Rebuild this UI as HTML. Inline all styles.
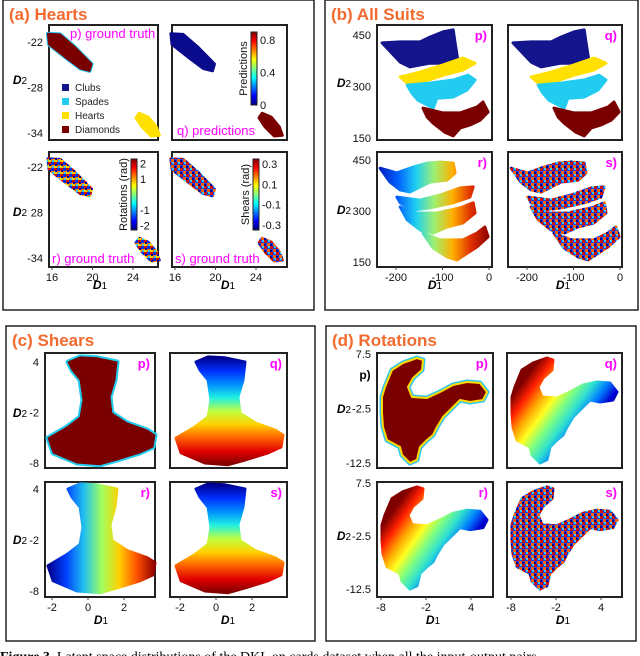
<!DOCTYPE html>
<html><head><meta charset="utf-8"><style>
html,body{margin:0;padding:0;background:#fff;width:640px;height:656px;overflow:hidden}
svg{display:block;font-family:"Liberation Sans",sans-serif}
</style></head><body>
<svg id="fig" width="640" height="656" viewBox="0 0 640 656">
<defs>
<pattern id="mix" patternUnits="userSpaceOnUse" width="6" height="6">
<rect width="6" height="6" fill="#ff7000"/>
<rect x="0" y="0" width="3" height="3" fill="#d01000"/>
<rect x="3" y="0" width="3" height="3" fill="#0030e0"/>
<rect x="0" y="3" width="3" height="3" fill="#f0d000"/>
<rect x="4" y="4" width="2" height="2" fill="#30c8f0"/>
<rect x="1" y="2" width="2" height="2" fill="#000090"/>
</pattern>
<pattern id="mix2" patternUnits="userSpaceOnUse" width="6" height="6">
<rect width="6" height="6" fill="#1040f0"/>
<rect x="0" y="0" width="3" height="3" fill="#d01000"/>
<rect x="3" y="3" width="3" height="3" fill="#ff6000"/>
<rect x="4" y="0" width="2" height="2" fill="#30d0f0"/>
<rect x="0" y="4" width="2" height="2" fill="#000090"/>
</pattern>
</defs>
</svg>
<script>
// ---------- data (data coordinates) ----------
const aBand=[[15.6,-20.9],[16.8,-21.0],[18.2,-22.6],[19.9,-24.9],[19.7,-25.8],[18.8,-25.5],[17.5,-24.2],[15.7,-22.3]];
const aHeart=[[24.6,-31.4],[25.5,-31.9],[26.3,-33.2],[26.6,-34.3],[25.8,-34.4],[24.9,-33.2],[24.3,-32.0]];
const aLegendLabels=['Clubs','Spades','Hearts','Diamonds'];
const aXTicks=[16,20,24];
const aYTicks=[-22,-28,-34];
const aYTickLabelsTop=['-22','-28','-34'];
const aYTickLabelsBot=['-22','28','-34'];
const predTicks=[0.8,0.4,0];
const rotTicks=[2,1,-1,-2];
const shearTicks=[0.3,0.1,-0.1,-0.3];

const bNavy=[[-230,427],[-191,430],[-148,430],[-127,444],[-99,459],[-77,465],[-73,427],[-67,377],[-90,368],[-127,368],[-170,357],[-191,371]];
const bYellow=[[-191,328],[-148,342],[-99,363],[-56,383],[-30,368],[-56,348],[-99,333],[-142,313],[-176,310]];
const bCyan=[[-176,304],[-127,310],[-77,319],[-45,333],[-30,319],[-47,290],[-77,269],[-112,266],[-120,237],[-153,260],[-166,281]];
const bMaroon=[[-142,237],[-99,223],[-62,223],[-26,240],[-13,255],[-2,226],[-19,202],[-41,188],[-62,179],[-77,156],[-95,167],[-120,193],[-133,211]];
const bR1=[[-234,426],[-198,412],[-163,429],[-133,441],[-105,444],[-77,441],[-73,412],[-90,391],[-127,385],[-148,371],[-170,356],[-191,362],[-213,385]];
const bR2=[[-198,341],[-148,332],[-105,347],[-62,368],[-34,371],[-41,341],[-77,324],[-127,309],[-163,303],[-191,324]];
const bR3=[[-191,312],[-155,294],[-112,294],[-62,309],[-34,324],[-30,294],[-56,265],[-90,253],[-120,235],[-148,244],[-176,274]];
const bR4=[[-142,235],[-105,215],[-56,215],[-26,235],[-9,253],[-2,224],[-26,194],[-47,176],[-69,156],[-90,165],[-120,191]];
const bXTicks=[-200,-100,0];
const bYTicks=[450,300,150];

const cShape=[[-1.11,4],[-0.44,4.6],[0.5,4.5],[1.61,4],[1.5,1.86],[1.22,-0.16],[1.33,-2.06],[2.17,-3.24],[3.28,-4.08],[3.72,-4.67],[3.61,-6.1],[2.89,-6.8],[1.61,-7.64],[0.67,-8.2],[-0.61,-8],[-1.94,-6.8],[-2.22,-5.03],[-1.17,-3.72],[-0.44,-2.53],[-0.28,-0.51],[-0.44,1.86],[-0.89,3.05]];
const cXTicks=[-2,0,2];
const cYTicks=[4,-2,-8];

const dShape=[[-6.53,4.56],[-5.07,5.85],[-3.2,6.77],[-2.4,6.4],[-2.53,4.56],[-3.73,3.1],[-4.4,1.44],[-3.87,-0.39],[-1.87,-0.57],[-0.13,0.53],[1.6,1.81],[3.47,2.36],[5.2,2.18],[6.13,0.53],[5.6,-0.94],[3.87,-1.31],[2.53,-0.94],[1.6,-2.22],[0.27,-4.06],[-0.53,-5.89],[-1.07,-7.36],[-1.87,-8.28],[-2.8,-9.56],[-3.2,-11.9],[-4.13,-12.5],[-5.2,-11.03],[-5.47,-9.56],[-7.2,-8.28],[-7.73,-5.89],[-7.87,-3.33],[-7.87,-0.39],[-7.47,1.44]];
const dXTicks=[-8,-2,4];
const dYTicks=[7.5,-2.5,-12.5];

// ---------- helpers ----------
const NS='http://www.w3.org/2000/svg';
const svg=document.getElementById('fig');
const defs=svg.querySelector('defs');
function el(tag,parent){const e=document.createElementNS(NS,tag);parent.appendChild(e);return e;}
function lin(d0,d1,p0,p1){return v=>p0+(v-d0)*(p1-p0)/(d1-d0);}
const JET=['#00007f','#0000ff','#0080ff','#00ffff','#80ff80','#ffff00','#ff8000','#ff0000','#7f0000'];
let gid=0;
function grad(x1,y1,x2,y2,colors){
  const g=el('linearGradient',defs);
  const id='g'+(gid++);
  g.setAttribute('id',id);g.setAttribute('gradientUnits','userSpaceOnUse');
  g.setAttribute('x1',x1);g.setAttribute('y1',y1);g.setAttribute('x2',x2);g.setAttribute('y2',y2);
  colors.forEach((c,i)=>{const s=el('stop',g);s.setAttribute('offset',i/(colors.length-1));s.setAttribute('stop-color',c);});
  return 'url(#'+id+')';
}
function text(parent,x,y,str,size,opts){
  const t=el('text',parent);t.setAttribute('x',x);t.setAttribute('y',y);t.setAttribute('font-size',size);
  t.textContent=str;
  if(opts){for(const k in opts)t.setAttribute(k,opts[k]);}
  return t;
}
function makePlot(name,box,xd,xp,yd,yp){
  const g=el('g',svg);
  
  
  const r=el('rect',g);
  r.setAttribute('x',box[0]);r.setAttribute('y',box[1]);r.setAttribute('width',box[2]-box[0]);r.setAttribute('height',box[3]-box[1]);
  r.setAttribute('fill','#fff');r.setAttribute('stroke','#222');r.setAttribute('stroke-width','2');
  
  
  return {g,box,sx:lin(xd[0],xd[1],xp[0],xp[1]),sy:lin(yd[0],yd[1],yp[0],yp[1])};
}
function blob(p,pts,fill,name,stroke,sw){
  const pg=el('polygon',p.g);
  pg.setAttribute('points',pts.map(q=>p.sx(q[0]).toFixed(1)+','+p.sy(q[1]).toFixed(1)).join(' '));
  pg.setAttribute('fill',fill);
  pg.setAttribute('stroke',stroke||fill);pg.setAttribute('stroke-width',sw||3);pg.setAttribute('stroke-linejoin','round');
  
  
  return pg;
}
function xTicks(p,ticks,labels){
  ticks.forEach((v,i)=>{
    const t=text(p.g,p.sx(v),p.box[3]+14,labels?labels[i]:String(v),11,{'text-anchor':'middle','fill':'#111'});
    
    
    const l=el('line',p.g);l.setAttribute('x1',p.sx(v));l.setAttribute('x2',p.sx(v));l.setAttribute('y1',p.box[3]);l.setAttribute('y2',p.box[3]+3);l.setAttribute('stroke','#444');
    
    
  });
}
function yTicks(p,ticks,labels){
  ticks.forEach((v,i)=>{
    const t=text(p.g,p.box[0]-6,p.sy(v)+4,labels?labels[i]:String(v),11,{'text-anchor':'end','fill':'#111'});
    
    
  });
}
function tag(p,str,name){
  const t=text(p.g,p.box[2]-5,p.box[1]+15,str,13,{'text-anchor':'end','fill':'#ff00ff','font-weight':'bold'});
  
  
}
function axisTitle(x,y,main,sub,name){
  const t=el('text',svg);t.setAttribute('x',x);t.setAttribute('y',y);t.setAttribute('font-size',12);t.setAttribute('text-anchor','middle');
  const a=el('tspan',t);a.setAttribute('font-weight','bold');a.setAttribute('font-style','italic');a.textContent=main;
  const b=el('tspan',t);b.setAttribute('font-size',10);b.textContent=sub;
  
  
}
function panel(x,y,w,h,title,name){
  const r=el('rect',svg);r.setAttribute('x',x);r.setAttribute('y',y);r.setAttribute('width',w);r.setAttribute('height',h);
  r.setAttribute('fill','none');r.setAttribute('stroke','#222');r.setAttribute('stroke-width','1.5');
  
  
  const t=text(svg,x+6,y+20,title,17,{'font-weight':'bold','fill':'#f26a2e'});
  
  
}
function colorbar(p,x,y0,y1,ticks,lo,hi,label,name){
  const g=grad(0,y1,0,y0,JET);
  const r=el('rect',p.g);r.setAttribute('x',x);r.setAttribute('y',y0);r.setAttribute('width',6);r.setAttribute('height',y1-y0);
  r.setAttribute('fill',g);r.setAttribute('stroke','#222');r.setAttribute('stroke-width','1');
  
  
  const s=lin(lo,hi,y1,y0);
  ticks.forEach(v=>{
    const t=text(p.g,x+9,s(v)+4,String(v),11,{'fill':'#111'});
    
    
  });
  const cy=(y0+y1)/2;
  const lt=text(p.g,x-4,cy,label,11,{'text-anchor':'middle','transform':'rotate(-90 '+(x-4)+' '+cy+')','fill':'#111'});
  
  
}

// ---------- panel borders ----------
panel(3,0,311,310,'(a) Hearts','panel-a');
panel(325,0,313,310,'(b) All Suits','panel-b');
panel(6,326,309,315,'(c) Shears','panel-c');
panel(326,326,310,315,'(d) Rotations','panel-d');

// ---------- (a) Hearts ----------
const ap=makePlot('a-p-plot',[49,25,158,140],[16,24],[52,133],[-22,-34],[42,133]);
blob(ap,aBand,'#24c8f0','a-p-spades-edge','#24c8f0',4);
blob(ap,aBand,'#7a0000','a-p-diamonds','#7a0000',2);
blob(ap,aHeart,'#ffe000','a-p-hearts');
const legCols=['#14148c','#22ccf0','#ffe000','#7a0000'];
aLegendLabels.forEach((lab,i)=>{
  const r=el('rect',ap.g);r.setAttribute('x',62);r.setAttribute('y',84+i*14);r.setAttribute('width',7);r.setAttribute('height',7);r.setAttribute('fill',legCols[i]);
  
  
  const t=text(ap.g,75,91+i*14,lab,10,{'fill':'#222'});
  
  
});
const apl=text(ap.g,70,38,'p) ground truth',13,{'fill':'#ff00ff'});


yTicks(ap,aYTicks,aYTickLabelsTop);

const aq=makePlot('a-q-plot',[172,25,287,140],[16,24],[175,256],[-22,-34],[42,133]);
blob(aq,aBand,'#0a0a8c','a-q-band');
blob(aq,aHeart,'#7a0000','a-q-hearts');
colorbar(aq,251,32,105,predTicks,0,0.9,'Predictions','a-q-colorbar');
const aql=text(aq.g,177,135,'q) predictions',13,{'fill':'#ff00ff'});



const ar=makePlot('a-r-plot',[49,152,158,267],[16,24],[52,133],[-22,-34],[167,258]);
blob(ar,aBand,'url(#mix)','a-r-band');
blob(ar,aHeart,'url(#mix)','a-r-hearts');
colorbar(ar,131,159,230,rotTicks,-2.3,2.3,'Rotations (rad)','a-r-colorbar');
const arl=text(ar.g,52,263,'r) ground truth',13,{'fill':'#ff00ff'});


yTicks(ar,aYTicks,aYTickLabelsBot);
xTicks(ar,aXTicks);

const as=makePlot('a-s-plot',[172,152,287,267],[16,24],[175,256],[-22,-34],[167,258]);
blob(as,aBand,'url(#mix2)','a-s-band');
blob(as,aHeart,'url(#mix2)','a-s-hearts');
colorbar(as,253,159,230,shearTicks,-0.35,0.35,'Shears (rad)','a-s-colorbar');
const asl=text(as.g,175,263,'s) ground truth',13,{'fill':'#ff00ff'});


xTicks(as,aXTicks);
axisTitle(20,84,'D','2','a-y-axis-title-top');
axisTitle(20,216,'D','2','a-y-axis-title-bottom');
axisTitle(100,289,'D','1','a-x-axis-title-left');
axisTitle(228,289,'D','1','a-x-axis-title-right');

// ---------- (b) All Suits ----------
function bTop(name,box,xp,lab){
  const p=makePlot(name,box,[-200,0],xp,[450,150],[35,138]);
  blob(p,bNavy,'#14148c',name+'-clubs');
  blob(p,bYellow,'#ffe000',name+'-hearts');
  blob(p,bCyan,'#22ccf0',name+'-spades');
  blob(p,bMaroon,'#7a0000',name+'-diamonds');
  tag(p,lab,name+'-label');
  return p;
}
const bp=bTop('b-p-plot',[377,25,492,140],[396,489],'p)');
yTicks(bp,bYTicks);
bTop('b-q-plot',[508,25,622,140],[527,620],'q)');
function bBot(name,box,xp,lab,fill){
  const p=makePlot(name,box,[-200,0],xp,[450,150],[160,262]);
  [bR1,bR2,bR3,bR4].forEach((b,i)=>blob(p,b,fill(p),name+'-band-'+(i+1)));
  tag(p,lab,name+'-label');
  xTicks(p,bXTicks);
  return p;
}
const br=bBot('b-r-plot',[377,152,492,267],[396,489],'r)',p=>grad(p.sx(-235),0,p.sx(0),0,['#0020c0','#0060ff','#20d0f0','#a0f070','#ffb000','#e03000','#900000']));
yTicks(br,bYTicks);
bBot('b-s-plot',[508,152,622,267],[527,620],'s)',p=>'url(#mix2)');
axisTitle(344,87,'D','2','b-y-axis-title-top');
axisTitle(344,214,'D','2','b-y-axis-title-bottom');
axisTitle(435,289,'D','1','b-x-axis-title-left');
axisTitle(563,289,'D','1','b-x-axis-title-right');

// ---------- (c) Shears ----------
function cPlot(name,box,xp,yp,lab,fillFn,edge){
  const p=makePlot(name,box,[-2,2],xp,[4,-8],yp);
  if(edge) blob(p,cShape,'#22ccf0',name+'-edge','#22ccf0',5);
  blob(p,cShape,fillFn(p),name+'-points',edge?'#7a0000':fillFn(p),edge?1:3);
  tag(p,lab,name+'-label');
  return p;
}
const vjet=p=>grad(0,p.sy(4.5),0,p.sy(-8.2),['#00008f','#0030ff','#0090ff','#20f0e0','#c0ff40','#ffd000','#ff6000','#e00000','#800000']);
const cp=cPlot('c-p-plot',[45,353,155,468],[52,124],[362,463],'p)',p=>'#7a0000',true);
yTicks(cp,cYTicks);
cPlot('c-q-plot',[170,353,287,468],[180,252],[362,463],'q)',vjet,false);
const cr=cPlot('c-r-plot',[45,482,155,597],[52,124],[489,591],'r)',p=>grad(p.sx(-2.2),0,p.sx(3.7),0,['#00008f','#0040ff','#20c0f0','#a0ff60','#ffd000','#ff5000','#900000']),false);
yTicks(cr,cYTicks);xTicks(cr,cXTicks);
const cs=cPlot('c-s-plot',[170,482,287,597],[180,252],[489,591],'s)',vjet,false);
xTicks(cs,cXTicks);
axisTitle(20,417,'D','2','c-y-axis-title-top');
axisTitle(20,544,'D','2','c-y-axis-title-bottom');
axisTitle(101,624,'D','1','c-x-axis-title-left');
axisTitle(228,624,'D','1','c-x-axis-title-right');

// ---------- (d) Rotations ----------
function dPlot(name,box,xp,yp,lab,fillFn,mode){
  const p=makePlot(name,box,[-8,4],xp,[7.5,-12.5],yp);
  if(mode==='p'){
    blob(p,dShape,'#22ccf0',name+'-edge','#30c8f0',5);
    blob(p,dShape,'#7a0000',name+'-points','#ffd800',2);
  } else blob(p,dShape,fillFn(p),name+'-points');
  tag(p,lab,name+'-label');
  return p;
}
const djet=p=>grad(p.sx(-4),p.sy(7),p.sx(6),p.sy(-3),['#800000','#ff2000','#ffa000','#ffff20','#80ff80','#30e0d0','#0080ff','#0000d0','#00008f']);
const dp=dPlot('d-p-plot',[377,353,493,468],[381,471],[354,463],'p)',null,'p');
yTicks(dp,dYTicks);
dPlot('d-q-plot',[507,353,622,468],[511,601],[354,463],'q)',djet,'');
const dr=dPlot('d-r-plot',[377,482,493,597],[381,471],[483,589],'r)',djet,'');
yTicks(dr,dYTicks);xTicks(dr,dXTicks);
const ds=dPlot('d-s-plot',[507,482,622,597],[511,601],[483,589],'s)',p=>'url(#mix2)','');
xTicks(ds,dXTicks);
const dpx=text(svg,365,379,'p)',12,{'font-weight':'bold','text-anchor':'middle'});


axisTitle(344,413,'D','2','d-y-axis-title-top');
axisTitle(344,540,'D','2','d-y-axis-title-bottom');
axisTitle(433,624,'D','1','d-x-axis-title-left');
axisTitle(563,624,'D','1','d-x-axis-title-right');

// ---------- caption ----------
const cap=el('text',svg);cap.setAttribute('x',0);cap.setAttribute('y',661);cap.setAttribute('font-size',14);cap.setAttribute('font-family','"Liberation Serif",serif');
const c1=el('tspan',cap);c1.setAttribute('font-weight','bold');c1.textContent='Figure 3.';
const c2=el('tspan',cap);c2.textContent=' Latent space distributions of the DKL on cards dataset when all the input-output pairs';


</script>
</body></html>
